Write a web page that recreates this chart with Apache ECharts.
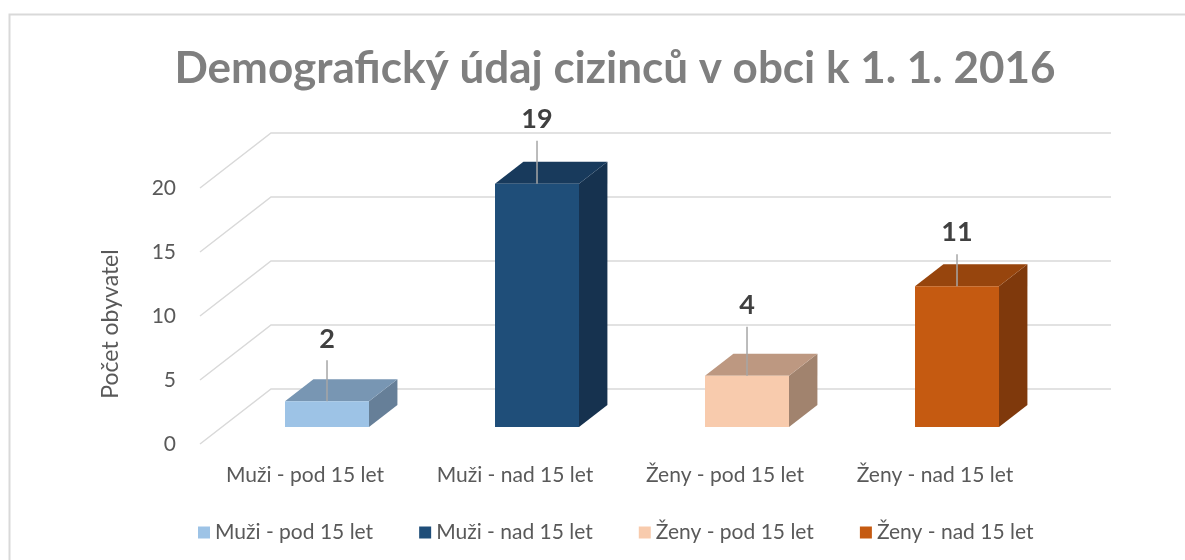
<!DOCTYPE html>
<html>
<head>
<meta charset="utf-8">
<script src="https://cdn.jsdelivr.net/npm/echarts@6/dist/echarts.min.js"></script>
<style>
  html, body { margin: 0; padding: 0; background: #fff; }
  #main { width: 1185px; height: 560px; }
</style>
</head>
<body>
<div id="main"></div>
<script>
// data
const categories = ['Muži - pod 15 let', 'Muži - nad 15 let', 'Ženy - pod 15 let', 'Ženy - nad 15 let']
const values = [2, 19, 4, 11]
const yTicks = [0, 5, 10, 15, 20]

// colours for front / top / side faces of each bar
const frontColors = ['#9dc3e6', '#1f4e79', '#f8cbad', '#c55a11']
const topColors = ['#7896b3', '#183a5c', '#bd9881', '#97450d']
const sideColors = ['#667f98', '#16324f', '#a1836e', '#7f390c']
const leaderLen = [41, 43, 49, 32]

// oblique depth of the 3d box
const DX = 71
const DY = -55
const F1 = 0.31 // bar front, fraction of the depth
const F2 = 0.71 // bar back

const font = 'Lato, "Noto Sans", sans-serif'
const myChart = echarts.init(document.getElementById('main'))

function gridItem(params, api) {
  const cs = params.coordSys
  const y = api.coord([0, api.value(0)])[1]
  const x0 = cs.x
  return {
    type: 'polyline',
    shape: { points: [[x0, y], [x0 + DX, y + DY], [x0 + cs.width + DX, y + DY]] },
    style: { stroke: '#d9d9d9', lineWidth: 1.5, fill: null },
    silent: true
  }
}

function barItem(params, api) {
  const i = api.value(0)
  const v = api.value(1)
  const top = api.coord([i, v])
  const base = api.coord([i, 0])
  const bw = api.size([1, 0])[0] * 0.4
  const x1 = top[0] - bw / 2 + F1 * DX
  const x2 = x1 + bw
  const yb = base[1] + F1 * DY
  const yt = top[1] + F1 * DY
  const ddx = (F2 - F1) * DX
  const ddy = (F2 - F1) * DY
  const cx = (x1 + x2) / 2
  const L = leaderLen[i]
  return {
    type: 'group',
    children: [
      {
        type: 'polygon',
        shape: { points: [[x2, yb], [x2 + ddx, yb + ddy], [x2 + ddx, yt + ddy], [x2, yt]] },
        style: { fill: sideColors[i] }
      },
      {
        type: 'polygon',
        shape: { points: [[x1, yt], [x1 + ddx, yt + ddy], [x2 + ddx, yt + ddy], [x2, yt]] },
        style: { fill: topColors[i] }
      },
      {
        type: 'rect',
        shape: { x: x1, y: yt, width: bw, height: yb - yt },
        style: { fill: frontColors[i] }
      },
      {
        type: 'line',
        shape: { x1: cx, y1: yt - L, x2: cx, y2: yt },
        style: { stroke: '#a6a6a6', lineWidth: 1.5 }
      },
      {
        type: 'text',
        x: cx,
        y: yt - L - 8,
        style: {
          text: String(v),
          font: 'bold 27px ' + font,
          fill: '#404040',
          align: 'center',
          verticalAlign: 'bottom'
        }
      }
    ]
  }
}

const series = [
  {
    type: 'custom',
    renderItem: gridItem,
    data: yTicks.map(t => [t]),
    encode: { y: 0 },
    silent: true,
    z: 1
  }
]
categories.forEach((c, i) => {
  series.push({
    name: c,
    type: 'custom',
    renderItem: barItem,
    itemStyle: { color: frontColors[i] },
    data: [[i, values[i]]],
    encode: { x: 0, y: 1 },
    z: 2
  })
})

const option = {
  animation: false,
  title: {
    text: 'Demografický údaj cizinců v obci k 1. 1. 2016',
    left: 610,
    textAlign: 'center',
    top: 42,
    textStyle: { fontFamily: font, fontWeight: 'bold', fontSize: 44, color: '#7f7f7f' }
  },
  legend: {
    data: categories,
    left: 193,
    top: 517,
    icon: 'rect',
    itemWidth: 12,
    itemHeight: 12,
    itemGap: 46,
    textStyle: { fontFamily: font, fontSize: 21, color: '#595959' }
  },
  grid: { left: 200, top: 188, width: 840, height: 256 },
  xAxis: {
    type: 'category',
    data: categories,
    axisLine: { show: false },
    axisTick: { show: false },
    axisLabel: { margin: 21, fontFamily: font, fontSize: 21, color: '#595959' }
  },
  yAxis: {
    type: 'value',
    min: 0,
    max: 20,
    interval: 5,
    name: 'Počet obyvatel',
    nameLocation: 'middle',
    nameRotate: 90,
    nameGap: 78,
    nameTextStyle: { fontFamily: font, fontSize: 23, color: '#595959', padding: [0, 16, 0, 0] },
    axisLine: { show: false },
    axisTick: { show: false },
    splitLine: { show: false },
    axisLabel: { margin: 24, fontFamily: font, fontSize: 21, color: '#595959' }
  },
  graphic: [
    {
      type: 'polyline',
      shape: { points: [[9.5, 560], [9.5, 14.5], [1185, 14.5]] },
      style: { stroke: '#d9d9d9', lineWidth: 2, fill: null },
      silent: true
    }
  ],
  series: series
}

myChart.setOption(option)
</script>
</body>
</html>
